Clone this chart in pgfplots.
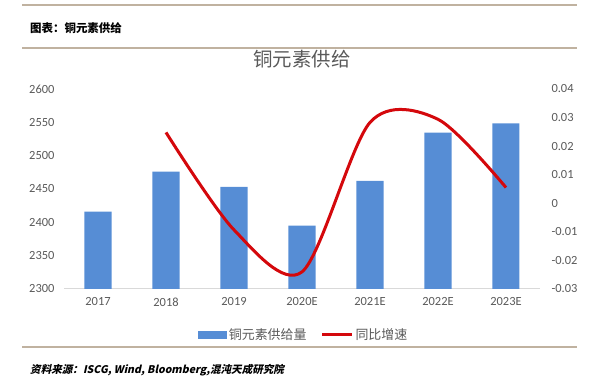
\documentclass[border=0pt]{standalone}
\usepackage{pgfplots}
\pgfplotsset{compat=1.18}
\usepackage{fontspec}
\setmainfont{Carlito}
\newfontfamily\cjk{Noto Sans CJK SC}
\newfontfamily\cjksl[FakeSlant=0.22,BoldFeatures={FakeSlant=0.22}]{Noto Sans CJK SC}
\definecolor{barblue}{RGB}{86,141,213}
\definecolor{linered}{RGB}{212,8,12}
\definecolor{rulec}{RGB}{192,178,160}
\definecolor{txtgray}{RGB}{89,89,89}
\definecolor{axgray}{RGB}{217,217,217}
\begin{document}
\begin{tikzpicture}
\useasboundingbox (0,0) rectangle (600bp,382bp);
% rules
\draw[rulec,line width=1.6bp] (22bp,377bp) -- (577bp,377bp);
\draw[rulec,line width=1.6bp] (22bp,334bp) -- (577bp,334bp);
\draw[rulec,line width=1.6bp] (22bp,35bp) -- (577bp,35bp);
\node[anchor=west,inner sep=0] at (30bp,354bp) {\cjk\bfseries\fontsize{11.5}{13}\selectfont 图表：铜元素供给};
\node[anchor=west,inner sep=0] at (30bp,12bp) {\cjksl\bfseries\fontsize{10.6}{12}\selectfont 资料来源：ISCG, Wind, Bloomberg,混沌天成研究院};
\node[inner sep=0,text=txtgray] at (302bp,323bp) {\cjk\fontsize{19.5}{21}\selectfont 铜元素供给};

\begin{axis}[
  at={(64bp,93bp)}, anchor=south west,
  scale only axis, width=476bp, height=200bp,
  xmin=-0.5, xmax=6.5, ymin=2300, ymax=2600,
  axis x line*=bottom, axis y line*=left,
  x axis line style={axgray, line width=1bp, -},
  y axis line style={draw=none},
  xtick={0,1,2,3,4,5,6},
  xticklabels={2017,2018,2019,2020E,2021E,2022E,2023E},
  ytick={2300,2350,2400,2450,2500,2550,2600},
  major tick length=0pt,
  /pgf/number format/assume math mode=true,
  /pgf/number format/set thousands separator={},
  tick label style={font=\fontsize{12.5}{14}\selectfont, text=txtgray},
  xticklabel style={yshift=-5bp},
  yticklabel style={xshift=-6bp},
]
\addplot[ybar, bar width=27bp, bar shift=0pt, fill=barblue, draw=none]
  coordinates {(0,2416) (1,2476) (2,2453) (3,2395) (4,2462) (5,2534.5) (6,2548.5)};
\end{axis}

\begin{axis}[
  at={(64bp,93bp)}, anchor=south west,
  scale only axis, width=476bp, height=200bp,
  xmin=-0.5, xmax=6.5, ymin=-0.03, ymax=0.04,
  axis x line=none, axis y line*=right,
  y axis line style={draw=none},
  scaled y ticks=false,
  ytick={-0.03,-0.02,-0.01,0,0.01,0.02,0.03,0.04},
  yticklabels={-0.03,-0.02,-0.01,0,0.01,0.02,0.03,0.04},
  major tick length=0pt,
  tick label style={font=\fontsize{12.5}{14}\selectfont, text=txtgray},
  yticklabel style={anchor=west, xshift=8bp},
  legend columns=2,
  legend style={at={(0.504,-0.23)}, anchor=center, draw=none, fill=none,
    font=\cjk\fontsize{13}{15}\selectfont, text=txtgray,
    /tikz/every even column/.append style={column sep=12bp},
    inner sep=0pt},
]
\addlegendimage{legend image code/.code={\fill[barblue] (0bp,-3.5bp) rectangle (28bp,3.5bp);}}
\addlegendentry{铜元素供给量}
\addplot[linered, line width=3bp, smooth, tension=0.5, mark=none,
  legend image code/.code={\draw[linered,line width=3bp] (0bp,0bp) -- (30bp,0bp);}]
  coordinates {(1,0.0248) (2,-0.0093) (3,-0.0240) (4,0.0283) (5,0.0294) (6,0.0055)};
\addlegendentry{同比增速}
\end{axis}
\end{tikzpicture}
\end{document}
